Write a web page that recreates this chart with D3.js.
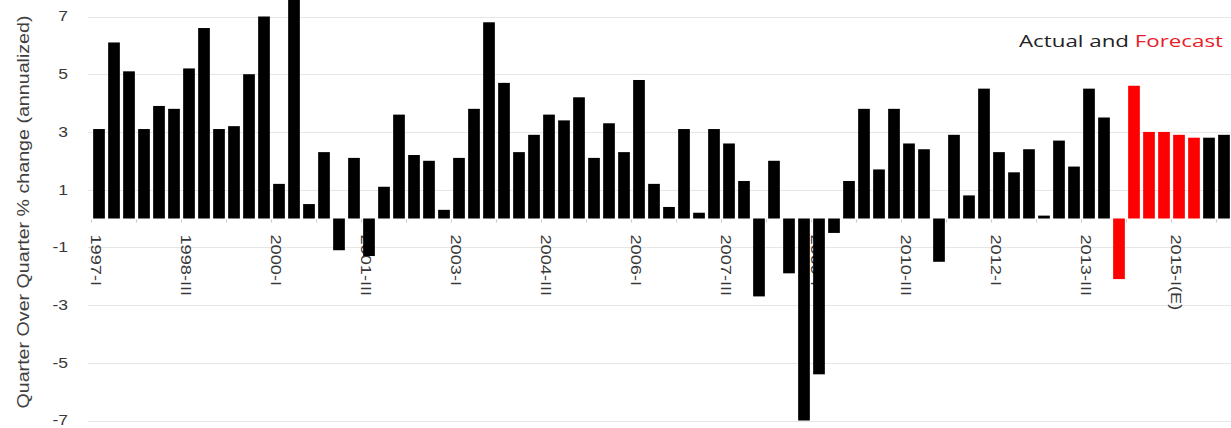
<!DOCTYPE html>
<html>
<head>
<meta charset="utf-8">
<script src="https://cdn.jsdelivr.net/npm/d3@7"></script>
<style>
html,body{margin:0;padding:0;background:#fff;}
svg{display:block;}
</style>
</head>
<body>
<svg id="chart" width="1231" height="428"></svg>
<script>
// ---- data ----
const years = [1997,1998,1999,2000,2001,2002,2003,2004,2005,2006,2007,2008,2009,2010,2011,2012,2013,2014,2015];
const quarterNames = ["I","II","III","IV"];
const values = [
  3.1, 6.1, 5.1, 3.1,
  3.9, 3.8, 5.2, 6.6,
  3.1, 3.2, 5.0, 7.0,
  1.2, 7.8, 0.5, 2.3,
  -1.1, 2.1, -1.3, 1.1,
  3.6, 2.2, 2.0, 0.3,
  2.1, 3.8, 6.8, 4.7,
  2.3, 2.9, 3.6, 3.4,
  4.2, 2.1, 3.3, 2.3,
  4.8, 1.2, 0.4, 3.1,
  0.2, 3.1, 2.6, 1.3,
  -2.7, 2.0, -1.9, -7.0,
  -5.4, -0.5, 1.3, 3.8,
  1.7, 3.8, 2.6, 2.4,
  -1.5, 2.9, 0.8, 4.5,
  2.3, 1.6, 2.4, 0.1,
  2.7, 1.8, 4.5, 3.5,
  -2.1, 4.6, 3.0, 3.0,
  2.9, 2.8, 2.8, 2.9
];
const redQuarters = ["2014-I","2014-II","2014-III","2014-IV","2015-I","2015-II"];
const tickLabels = ["1997-I","1998-III","2000-I","2001-III","2003-I","2004-III","2006-I","2007-III","2009-I","2010-III","2012-I","2013-III","2015-I"];
const tickDisplay = ["1997-I","1998-III","2000-I","2001-III","2003-I","2004-III","2006-I","2007-III","2009-I","2010-III","2012-I","2013-III","2015-I(E)"];
const yTicks = [-7,-5,-3,-1,1,3,5,7];

const categories = [];
years.forEach(y => quarterNames.forEach(q => categories.push(y + "-" + q)));
const data = categories.map((c,i) => ({cat:c, v:values[i]}));

// ---- layout ----
const svg = d3.select("#chart");
const x = d3.scaleBand().domain(categories).range([91.5, 1231.5]).paddingInner(0.22).paddingOuter(0.11);
const y = d3.scaleLinear().domain([-7, 7]).range([420.5, 16.5]);

// gridlines
svg.append("g").selectAll("line").data(yTicks).join("line")
  .attr("x1", 88).attr("x2", 1231)
  .attr("y1", d => Math.round(y(d)) + 0.5).attr("y2", d => Math.round(y(d)) + 0.5)
  .attr("stroke", "#e6e6e6").attr("stroke-width", 1);

// y tick labels
svg.append("g").selectAll("text").data(yTicks).join("text")
  .attr("transform", d => `translate(68,${y(d)}) scale(1.25,1)`)
  .attr("text-anchor", "end").attr("dominant-baseline", "central")
  .attr("font-family", "Liberation Sans, Arial, sans-serif").attr("font-size", 14)
  .attr("fill", "#383838")
  .text(d => d);

// y axis title
svg.append("text")
  .attr("transform", "translate(23,212) rotate(-90)")
  .attr("text-anchor", "middle").attr("dominant-baseline", "central")
  .attr("font-family", "Liberation Sans, Arial, sans-serif").attr("font-size", 16)
  .attr("fill", "#404040")
  .attr("textLength", 393).attr("lengthAdjust", "spacingAndGlyphs")
  .text("Quarter Over Quarter % change (annualized)");

// small x ticks every 3 quarters
const step = x.step();
svg.append("g").selectAll("line").data(categories.filter((c,i) => i % 3 === 0)).join("line")
  .attr("x1", d => x(d) - x.paddingInner()*step/2 ).attr("x2", d => x(d) - x.paddingInner()*step/2)
  .attr("y1", y(0) + 1).attr("y2", y(0) + 4)
  .attr("stroke", "#c8c8c8").attr("stroke-width", 1);

// x labels (drawn under the bars)
svg.append("g").selectAll("text").data(tickLabels).join("text")
  .attr("transform", d => `translate(${x(d) + 3},${y(0) + 16}) rotate(90) scale(1.3,1)`)
  .attr("text-anchor", "start").attr("dominant-baseline", "central")
  .attr("font-family", "Liberation Sans, Arial, sans-serif").attr("font-size", 14)
  .attr("fill", "#383838")
  .text((d,i) => tickDisplay[i]);

// bars
svg.append("g").selectAll("rect").data(data).join("rect")
  .attr("x", d => x(d.cat))
  .attr("width", x.bandwidth())
  .attr("y", d => Math.min(y(d.v), y(0)))
  .attr("height", d => Math.abs(y(d.v) - y(0)))
  .attr("fill", d => redQuarters.includes(d.cat) ? "#ff0000" : "#000000");

// legend text
const leg = svg.append("text")
  .attr("x", 1019).attr("y", 47)
  .attr("font-family", "Open Sans, sans-serif").attr("font-size", 17)
  .attr("textLength", 204).attr("lengthAdjust", "spacingAndGlyphs");
leg.append("tspan").attr("fill", "#222").text("Actual and ");
leg.append("tspan").attr("fill", "#e8202a").text("Forecast");
</script>
</body>
</html>
